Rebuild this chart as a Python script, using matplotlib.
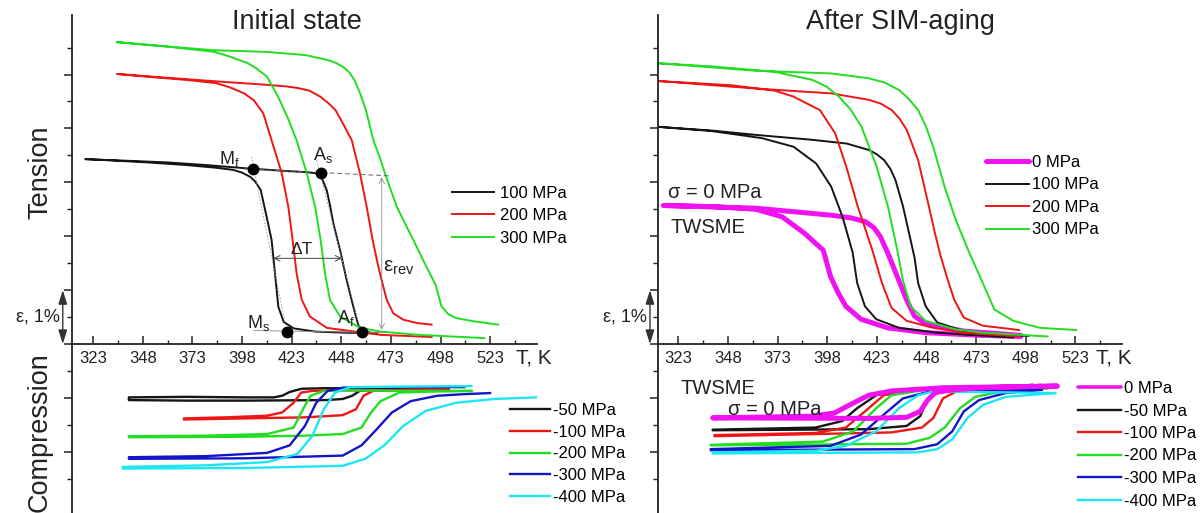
import numpy as np
import matplotlib
matplotlib.use("Agg")
import matplotlib.pyplot as plt

plt.rcParams['font.family'] = ['Liberation Sans', 'DejaVu Sans']
plt.rcParams['mathtext.fontset'] = 'custom'
plt.rcParams['mathtext.rm'] = 'Liberation Sans'
plt.rcParams['mathtext.it'] = 'Liberation Sans'

# ---- data: strain (%) vs T (K); each path = cooling branch then heating branch ----
# initial state, tension
ini_100_T = [466, 450, 435, 424, 419, 416.3, 414.6, 412.9, 410.4, 407.4, 404.5, 402.2, 398, 393.6, 385, 370, 350, 330, 319,
             319, 340, 360, 380, 400, 420, 430, 435, 438, 440.7, 442.3, 444.0, 447.4, 450.7, 454.1, 456.6, 459.1, 465]
ini_100_e = [0.20, 0.21, 0.23, 0.29, 0.41, 0.69, 1.31, 1.93, 2.36, 2.86, 3.02, 3.10, 3.18, 3.23, 3.27, 3.32, 3.37, 3.41, 3.43,
             3.43, 3.40, 3.37, 3.32, 3.26, 3.21, 3.19, 3.17, 3.10, 2.85, 2.58, 2.24, 1.74, 1.19, 0.69, 0.35, 0.23, 0.20]
ini_200_T = [493.5, 467.8, 448.7, 440.7, 432.2, 428.1, 425.5, 423.5, 421.3, 418, 412.9, 408.7, 404, 399.1, 392, 385, 370, 350, 335,
             335, 360, 390, 410, 420, 426, 432, 437.4, 441.5, 445.1, 449, 453.3, 457.4, 460.8, 463.8, 466.7, 468.3, 470.9, 474.2, 479.3, 486, 493.5]
ini_200_e = [0.13, 0.17, 0.26, 0.30, 0.51, 0.82, 1.31, 1.93, 2.55, 3.17, 3.78, 4.28, 4.52, 4.65, 4.76, 4.84, 4.90, 4.96, 5.01,
             5.01, 4.94, 4.86, 4.81, 4.78, 4.75, 4.70, 4.59, 4.47, 4.34, 4.08, 3.78, 3.17, 2.55, 1.93, 1.43, 1.19, 0.82, 0.57, 0.45, 0.39, 0.36]
ini_300_T = [520, 487, 468, 457.4, 447.4, 442.3, 439.8, 437.6, 434.8, 430.6, 425.5, 421, 416, 410.6, 405, 400.9, 392, 384, 360, 335,
             335, 360, 384, 410, 430, 441, 445, 449, 452, 454.6, 457.5, 460.4, 464.2, 467, 470, 475.9, 484.3, 490, 495.5, 498.5, 502, 506, 515, 527]
ini_300_e = [0.11, 0.17, 0.23, 0.30, 0.51, 0.82, 1.31, 1.93, 2.55, 3.17, 3.78, 4.20, 4.60, 4.96, 5.12, 5.21, 5.33, 5.42, 5.52, 5.60,
             5.60, 5.52, 5.45, 5.42, 5.36, 5.27, 5.22, 5.14, 5.04, 4.90, 4.65, 4.34, 3.78, 3.50, 3.17, 2.55, 1.93, 1.50, 1.10, 0.70, 0.55, 0.48, 0.42, 0.36]

# initial state, compression
ini_c50_T = [502, 470, 440, 428, 422, 418.2, 414, 400, 370, 341, 341, 370, 400, 440, 448.7, 453.5, 457.3, 464, 480, 502]
ini_c50_e = [-0.81, -0.82, -0.82, -0.83, -0.89, -0.96, -0.99, -0.99, -0.98, -0.99,
             -1.04, -1.05, -1.05, -1.04, -1.02, -0.96, -0.87, -0.84, -0.82, -0.81]
ini_c100_T = [502, 470, 440, 433.5, 427.8, 424, 418.2, 410.6, 390, 368.7, 368.7, 400, 430, 448.7, 455.4, 459.2, 464, 480, 502]
ini_c100_e = [-0.84, -0.86, -0.86, -0.87, -0.90, -1.09, -1.27, -1.33, -1.36, -1.38,
              -1.40, -1.38, -1.36, -1.32, -1.21, -0.96, -0.87, -0.85, -0.84]
ini_c200_T = [513.5, 480, 450, 439.2, 432.5, 428.7, 424, 410.6, 380, 341, 341, 400, 430, 448.7, 458.2, 463, 467.8, 477.3, 495, 513.5]
ini_c200_e = [-0.87, -0.87, -0.86, -0.87, -0.96, -1.21, -1.55, -1.67, -1.70, -1.71,
              -1.73, -1.72, -1.70, -1.67, -1.55, -1.27, -1.06, -0.90, -0.88, -0.87]
ini_c300_T = [510, 470, 448.7, 441.1, 435.4, 429.7, 422, 410.6, 380, 341, 341, 400, 448.7, 458.2, 465.9, 473.5, 483, 496.3, 510, 523]
ini_c300_e = [-0.80, -0.80, -0.81, -0.87, -1.09, -1.52, -1.88, -2.02, -2.08, -2.10,
              -2.13, -2.12, -2.07, -1.88, -1.58, -1.27, -1.06, -0.96, -0.93, -0.91]
ini_c400_T = [513.5, 480, 452.5, 444.9, 439.2, 433.5, 425.9, 410.6, 380, 337.9, 337.9, 400, 448.7, 460.1, 469.7, 479.2, 490.6, 505.9, 525, 546]
ini_c400_e = [-0.78, -0.79, -0.80, -0.90, -1.21, -1.70, -2.04, -2.19, -2.25, -2.28,
              -2.31, -2.30, -2.26, -2.13, -1.88, -1.52, -1.24, -1.09, -1.02, -0.99]

# after SIM-aging, tension
sim_0_T = [495.6, 476.4, 447.6, 428.5, 415, 407.4, 403.5, 399.7, 396, 386.7, 375.3, 362, 340, 315.4,
           315.4, 362, 400, 410, 417.2, 421.5, 424.8, 428.6, 433.3, 438, 441.9, 447.6, 466.8, 495.6]
sim_0_e = [0.14, 0.16, 0.21, 0.30, 0.46, 0.70, 0.95, 1.25, 1.74, 2.05, 2.36, 2.50, 2.55, 2.57,
           2.57, 2.52, 2.39, 2.34, 2.27, 2.16, 1.99, 1.68, 1.25, 0.82, 0.52, 0.37, 0.24, 0.16]
sim_100_T = [491.7, 470, 453.4, 434.2, 422.7, 417, 413.1, 410.8, 405.7, 400, 392.4, 381, 365, 340, 312.5,
             312.5, 340, 362, 390, 407.7, 419, 423, 426.7, 429.8, 432.4, 436.2, 440, 442, 443.8, 447.6, 453.4, 466.8, 482, 499.4]
sim_100_e = [0.12, 0.17, 0.21, 0.30, 0.46, 0.70, 1.13, 1.70, 2.36, 2.92, 3.35, 3.66, 3.82, 3.95, 4.03,
             4.03, 3.96, 3.88, 3.79, 3.72, 3.60, 3.52, 3.41, 3.25, 3.04, 2.55, 1.93, 1.60, 1.13, 0.70, 0.40, 0.24, 0.18, 0.15]
sim_200_T = [494.6, 466.8, 451.5, 438, 430.4, 425.6, 420.5, 413.4, 407.7, 402, 394.3, 381, 371.5, 350, 312.5,
             312.5, 362, 400, 419, 425, 430.5, 434.5, 438.1, 443.8, 448.5, 452.3, 455, 458.2, 462, 466.8, 476.4, 494.6]
sim_200_e = [0.14, 0.21, 0.30, 0.43, 0.67, 1.13, 1.77, 2.55, 3.28, 3.91, 4.34, 4.59, 4.70, 4.80, 4.88,
             4.88, 4.74, 4.65, 4.53, 4.46, 4.34, 4.18, 3.97, 3.41, 2.67, 2.05, 1.65, 1.25, 0.82, 0.49, 0.34, 0.26]
sim_300_T = [509, 476.4, 463, 447.6, 440, 436.1, 433.3, 428.6, 422.9, 415.3, 409.8, 403.9, 397.5, 390.5, 371.5, 340, 312.5,
             312.5, 362, 400, 419, 427, 434.3, 439, 443.8, 447.8, 451.4, 457.1, 462.8, 469.5, 476.4, 482.2, 491.7, 505.2, 523.4]
sim_300_e = [0.14, 0.21, 0.27, 0.43, 0.70, 1.19, 1.74, 2.55, 3.29, 4.03, 4.35, 4.59, 4.78, 4.90, 5.05, 5.15, 5.21,
             5.21, 5.07, 5.02, 4.93, 4.85, 4.71, 4.55, 4.34, 4.03, 3.66, 2.92, 2.30, 1.70, 1.13, 0.64, 0.43, 0.30, 0.26]

# after SIM-aging, compression
sim_c0_T = [513.8, 457.2, 430.4, 418.9, 409.3, 401.6, 390.1, 340.3, 340.3, 418.9, 438, 444.8, 448.6, 452.4, 461, 476.4, 513.8]
sim_c0_e = [-0.78, -0.81, -0.87, -0.95, -1.13, -1.28, -1.34, -1.37, -1.37, -1.38, -1.36, -1.25, -1.04, -0.90, -0.85, -0.81, -0.78]
sim_c50_T = [501.3, 438, 422.7, 413.1, 405.5, 392, 340.3, 340.3, 418.9, 438, 444.8, 448.6, 453.4, 466.8, 501.3]
sim_c50_e = [-0.76, -0.85, -0.95, -1.19, -1.43, -1.55, -1.59, -1.60, -1.58, -1.52, -1.34, -1.01, -0.88, -0.82, -0.76]
sim_c100_T = [505.2, 443.8, 426.5, 417, 407.4, 392, 341.2, 341.2, 430.4, 445.7, 451.5, 456.3, 463, 476.4, 505.2]
sim_c100_e = [-0.76, -0.85, -0.95, -1.25, -1.55, -1.65, -1.69, -1.71, -1.64, -1.55, -1.37, -1.01, -0.88, -0.82, -0.76]
sim_c200_T = [509, 447.6, 430.4, 422.7, 411.2, 395.9, 339.3, 339.3, 438, 449.6, 457.2, 464.9, 472.6, 486, 509]
sim_c200_e = [-0.82, -0.85, -0.95, -1.19, -1.62, -1.81, -1.87, -1.88, -1.85, -1.74, -1.55, -1.19, -0.98, -0.88, -0.82]
sim_c300_T = [506.1, 449.6, 436.1, 426.5, 415, 399.7, 339.3, 339.3, 441.9, 453.4, 461, 466.8, 474.5, 487.9, 506.1]
sim_c300_e = [-0.85, -0.88, -1.01, -1.31, -1.68, -1.89, -1.95, -1.97, -1.95, -1.86, -1.62, -1.25, -1.04, -0.91, -0.85]
sim_c400_T = [512.8, 451.5, 443.8, 434.2, 422.7, 407.4, 392, 340.3, 340.3, 443.8, 453.4, 461, 468.7, 476.4, 487.9, 512.8]
sim_c400_e = [-0.91, -0.88, -0.95, -1.19, -1.62, -1.89, -1.98, -2.01, -2.03, -2.01, -1.95, -1.77, -1.37, -1.13, -0.98, -0.91]

# characteristic points on the 100 MPa loop (initial state)
key_names = ['M$_\\mathregular{f}$', 'A$_\\mathregular{s}$', 'M$_\\mathregular{s}$', 'A$_\\mathregular{f}$']
key_T = [403.7, 437.8, 420.8, 458.3]
key_e = [3.24, 3.17, 0.22, 0.23]

x_major = [323, 348, 373, 398, 423, 448, 473, 498, 523]

# colours
BLK = '#151515'
RED = '#ee1515'
GRN = '#22dd22'
BLU = '#1515c8'
CYA = '#1ce6f2'
MAG = '#f012f0'
TXT = '#222222'

W, H = 1203, 513
fig = plt.figure(figsize=(W / 100, H / 100), dpi=100)

T0, T1 = 312.5, 546.5
E0, E1 = -3.135, 6.104
ax_w = (T1 - T0) * 1.985 / W
ax_h = 498 / H
axL = fig.add_axes([72.3 / W, 0, ax_w, ax_h])
axR = fig.add_axes([657.5 / W, 0, ax_w, ax_h])

for ax in (axL, axR):
    ax.set_xlim(T0, T1)
    ax.set_ylim(E0, E1)
    ax.patch.set_alpha(0)
    ax.spines['top'].set_visible(False)
    ax.spines['right'].set_visible(False)
    ax.spines['bottom'].set_position(('data', 0))
    for s in ('left', 'bottom'):
        ax.spines[s].set_linewidth(1.3)
        ax.spines[s].set_color(TXT)
    ax.set_xticks(x_major)
    ax.set_xticks(np.arange(335.5, T1, 25), minor=True)
    ax.set_yticks(np.arange(-2, 6, 1.0))
    ax.set_yticks(np.arange(-2.5, 6, 1.0), minor=True)
    ax.set_yticklabels([])
    ax.tick_params(axis='x', which='major', direction='in', length=6, width=1.1,
                   labelsize=12, pad=5, colors=TXT)
    ax.tick_params(axis='x', which='minor', direction='in', length=3, width=1.0, colors=TXT)
    ax.tick_params(axis='y', which='major', direction='out', length=6, width=1.1, colors=TXT)
    ax.tick_params(axis='y', which='minor', direction='out', length=3.5, width=1.0, colors=TXT)

lw_t = 1.4
lw_c = 1.7

# left panel
h100, = axL.plot(ini_100_T, ini_100_e, color=BLK, lw=lw_t)
h200, = axL.plot(ini_200_T, ini_200_e, color=RED, lw=lw_t)
h300, = axL.plot(ini_300_T, ini_300_e, color=GRN, lw=lw_t)
c50, = axL.plot(ini_c50_T, ini_c50_e, color=BLK, lw=lw_c)
c100, = axL.plot(ini_c100_T, ini_c100_e, color=RED, lw=lw_c)
c200, = axL.plot(ini_c200_T, ini_c200_e, color=GRN, lw=lw_c)
c300, = axL.plot(ini_c300_T, ini_c300_e, color=BLU, lw=lw_c)
c400, = axL.plot(ini_c400_T, ini_c400_e, color=CYA, lw=lw_c)

# construction lines on the 100 MPa loop
GL = dict(color='#666666', lw=0.7, ls=(0, (5, 3)))
axL.plot([399, 472], [3.25, 3.12], **GL)
axL.plot([404, 470], [0.25, 0.21], color='#888888', lw=0.6)
axL.plot([402.7, 421.1], [3.47, 0.14], color='#999999', lw=0.6, ls=(0, (2, 2)))
axL.plot([435.6, 458.3], [3.41, 0.14], color='#999999', lw=0.6, ls=(0, (2, 2)))
axL.plot(key_T, key_e, 'o', color='black', ms=7.5, zorder=5)

axL.text(397, 3.34, key_names[0], fontsize=13, ha='right', va='baseline', color=TXT)
axL.text(433.9, 3.41, key_names[1], fontsize=13, ha='left', va='baseline', color=TXT)
axL.text(400.4, 0.30, key_names[2], fontsize=13, ha='left', va='baseline', color=TXT)
axL.text(445.7, 0.39, key_names[3], fontsize=13, ha='left', va='baseline', color=TXT)

axL.annotate('', xy=(448.3, 1.59), xytext=(413.8, 1.59),
             arrowprops=dict(arrowstyle='<->', lw=0.7, color='#444444', shrinkA=0, shrinkB=0))
axL.text(428, 1.76, '\u0394T', fontsize=12.5, ha='center', va='center', color=TXT)
axL.annotate('', xy=(468.4, 3.09), xytext=(468.4, 0.27),
             arrowprops=dict(arrowstyle='<->', lw=0.5, color='#777777', shrinkA=0, shrinkB=0))
axL.text(468.8, 1.34, '\u03b5$_\\mathregular{rev}$', fontsize=15, ha='left', va='baseline', color=TXT)

# right panel
s0, = axR.plot(sim_0_T, sim_0_e, color=MAG, lw=3.6, solid_capstyle='round')
s100, = axR.plot(sim_100_T, sim_100_e, color=BLK, lw=lw_t)
s200, = axR.plot(sim_200_T, sim_200_e, color=RED, lw=lw_t)
s300, = axR.plot(sim_300_T, sim_300_e, color=GRN, lw=lw_t)
r50, = axR.plot(sim_c50_T, sim_c50_e, color=BLK, lw=lw_c)
r100, = axR.plot(sim_c100_T, sim_c100_e, color=RED, lw=lw_c)
r200, = axR.plot(sim_c200_T, sim_c200_e, color=GRN, lw=lw_c)
r300, = axR.plot(sim_c300_T, sim_c300_e, color=BLU, lw=lw_c)
r400, = axR.plot(sim_c400_T, sim_c400_e, color=CYA, lw=lw_c)
r0, = axR.plot(sim_c0_T, sim_c0_e, color=MAG, lw=3.6, solid_capstyle='round')

axR.text(317.8, 2.82, '\u03c3 = 0 MPa', fontsize=14.5, ha='left', va='center', color=TXT)
axR.text(319.3, 2.17, 'TWSME', fontsize=14.5, ha='left', va='center', color=TXT)
axR.text(324.1, -0.83, 'TWSME', fontsize=14.5, ha='left', va='center', color=TXT)
axR.text(347.8, -1.21, '\u03c3 = 0 MPa', fontsize=14.5, ha='left', va='center', color=TXT)

# epsilon scale bars
for ax, xa, xt in ((axL, 307.7, 306.3), (axR, 308.7, 307.2)):
    ax.annotate('', xy=(xa, 1.0), xytext=(xa, 0.0), annotation_clip=False,
                arrowprops=dict(arrowstyle='<|-|>,head_length=0.7,head_width=0.22', lw=1.0,
                                color='#333333', shrinkA=0, shrinkB=0, mutation_scale=12))
    ax.text(xt, 0.5, '\u03b5, 1%', fontsize=13, ha='right', va='center', color=TXT, clip_on=False)

# legends
leg_kw = dict(frameon=False, fontsize=12, bbox_transform=fig.transFigure, loc='upper left',
              borderpad=0, borderaxespad=0)
fig.legend([h100, h200, h300], ['100 MPa', '200 MPa', '300 MPa'], labelspacing=0.45,
           bbox_to_anchor=(452 / W, 1 - 185.5 / H), handlelength=2.5, handletextpad=0.35, **leg_kw)
fig.legend([c50, c100, c200, c300, c400], ['-50 MPa', '-100 MPa', '-200 MPa', '-300 MPa', '-400 MPa'],
           labelspacing=0.40, bbox_to_anchor=(510 / W, 1 - 403 / H), handlelength=2.4,
           handletextpad=0.2, **leg_kw)
fig.legend([s0, s100, s200, s300], ['0 MPa', '100 MPa', '200 MPa', '300 MPa'], labelspacing=0.45,
           bbox_to_anchor=(986 / W, 1 - 155 / H), handlelength=2.6, handletextpad=0.15, **leg_kw)
lg = fig.legend([r0, r50, r100, r200, r300, r400],
                ['0 MPa', '-50 MPa', '-100 MPa', '-200 MPa', '-300 MPa', '-400 MPa'], labelspacing=0.45,
                bbox_to_anchor=(1078 / W, 1 - 381 / H), handlelength=2.6, handletextpad=0.15, **leg_kw)
lg.legend_handles[0].set_linewidth(2.6)

# titles and axis words
fig.text(297 / W, 1 - 22 / H, 'Initial state', fontsize=19.5, ha='center', va='center', color=TXT)
fig.text(900 / W, 1 - 22 / H, 'After SIM-aging', fontsize=19.5, ha='center', va='center', color=TXT)
fig.text(40 / W, 1 - 172 / H, 'Tension', fontsize=19.5, rotation=90, ha='center', va='center', color=TXT)
fig.text(40 / W, 1 - 432 / H, 'Compression', fontsize=19.5, rotation=90, ha='center', va='center', color=TXT)
fig.text(516 / W, 1 - 358 / H, 'T, K', fontsize=15, ha='left', va='center', color=TXT)
fig.text(1096 / W, 1 - 358 / H, 'T, K', fontsize=15, ha='left', va='center', color=TXT)

fig.savefig('out.png', dpi=100)
